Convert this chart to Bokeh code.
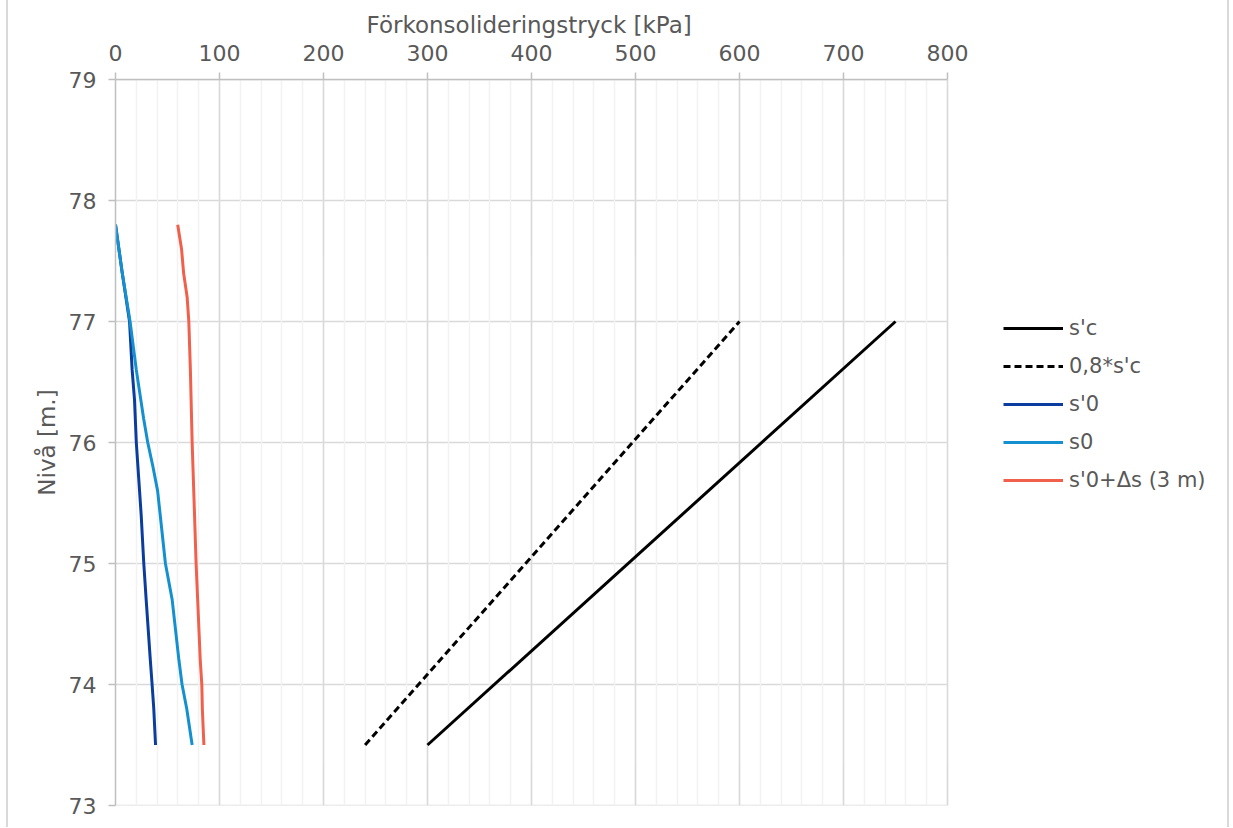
from bokeh.plotting import figure
from bokeh.models import Range1d, FixedTicker, Legend, LegendItem, Title
from bokeh.embed import file_html
from bokeh.resources import INLINE

# ---- data ----
x_ticks = [0, 100, 200, 300, 400, 500, 600, 700, 800]
x_minor = list(range(0, 801, 20))
y_ticks = [73, 74, 75, 76, 77, 78, 79]

sc_depth = [73.5, 77.0]
sc_vals = [300, 750]
sc08_vals = [240, 600]

s0eff_depth = [77.8, 77.4, 77.0, 76.6, 76.35, 76.0, 75.4, 75.0, 74.7, 74.2, 74.0, 73.8, 73.5]
s0eff_vals = [0, 6.5, 13.5, 16, 18.3, 20, 24.7, 27.2, 29.5, 33.5, 35.2, 36.8, 38.5]

s0_depth = [77.8, 77.4, 77.0, 76.6, 76.2, 76.0, 75.8, 75.6, 75.0, 74.7, 74.2, 74.0, 73.8, 73.5]
s0_vals = [0, 6.5, 14, 20, 27, 31, 36, 40.5, 48, 54.5, 61, 64, 68.5, 73.7]

red_depth = [77.8, 77.6, 77.4, 77.2, 77.0, 76.6, 76.0, 75.4, 75.0, 74.7, 74.2, 74.0, 73.8, 73.5]
red_vals = [59.8, 63.5, 65.5, 68.9, 70.5, 72, 73.7, 76, 77.5, 79, 81.5, 83, 83.5, 85]

labels = ["s'c", "0,8*s'c", "s'0", "s0", "s'0+\u0394s (3 m)"]
x_title = "F\u00f6rkonsolideringstryck [kPa]"
y_title = "Niv\u00e5 [m.]"

FONT = "DejaVu Sans"
TXT = "#595959"
X_MAX = 800
PLOT_W = 832                       # pixel width of the 0..800 plot area
FRAME_W = 1112                     # frame continues under the legend area
X_END = X_MAX * FRAME_W / PLOT_W

p = figure(frame_width=FRAME_W, frame_height=726, x_axis_location="above",
           output_backend="svg", toolbar_location=None,
           x_range=Range1d(0, X_END), y_range=Range1d(73, 79),
           min_border_left=107, min_border_top=79, min_border_bottom=22,
           min_border_right=0)
p.styles = {"margin-left": "6px", "border-left": "2px solid #d9d9d9",
            "border-right": "2px solid #d9d9d9"}
p.outline_line_color = None
p.background_fill_color = "white"
p.border_fill_color = "white"

p.xaxis.ticker = FixedTicker(ticks=x_ticks, minor_ticks=x_minor)
p.xaxis.bounds = (0, X_MAX)
p.yaxis.ticker = FixedTicker(ticks=y_ticks)

for ax in (p.xaxis[0], p.yaxis[0]):
    ax.axis_line_color = "#bfbfbf"
    ax.axis_line_width = 1.5
    ax.major_tick_line_color = "#bfbfbf"
    ax.major_tick_line_width = 1.5
    ax.major_tick_out = 7
    ax.major_tick_in = 0
    ax.minor_tick_line_color = None
    ax.major_label_text_font = FONT
    ax.major_label_text_font_size = "22px"
    ax.major_label_text_color = TXT
    ax.axis_label_text_font = FONT
    ax.axis_label_text_font_size = "23px"
    ax.axis_label_text_font_style = "normal"
    ax.axis_label_text_color = TXT

p.yaxis.axis_label = y_title
p.xaxis.major_label_standoff = 12
p.yaxis.major_label_standoff = 12
p.yaxis.axis_label_standoff = 6

# x-axis title, centred over the 0..800 plot area
title = Title(text=x_title, align="left", offset=251, standoff=7,
              text_font=FONT, text_font_size="23px", text_font_style="normal",
              text_color=TXT)
p.add_layout(title, "above")

p.xgrid.bounds = (0, X_MAX)
p.xgrid.grid_line_color = "#d9d9d9"
p.xgrid.grid_line_width = 1.5
p.xgrid.minor_grid_line_color = "#f2f2f2"
p.xgrid.minor_grid_line_width = 1.5
p.ygrid.visible = False
# horizontal gridlines limited to the 0..800 plot area
p.segment(x0=[0] * len(y_ticks), x1=[X_MAX] * len(y_ticks), y0=y_ticks, y1=y_ticks,
          line_color="#d9d9d9", line_width=1.5, level="underlay")

r1 = p.line(sc_vals, sc_depth, line_color="black", line_width=3)
r2 = p.line(sc08_vals, sc_depth, line_color="black", line_width=3, line_dash="7 4")
r3 = p.line(s0eff_vals, s0eff_depth, line_color="#0a3d9e", line_width=3)
r4 = p.line(s0_vals, s0_depth, line_color="#1490d0", line_width=3)
r5 = p.line(red_vals, red_depth, line_color="#f0604c", line_width=3)

items = [LegendItem(label=l, renderers=[r]) for l, r in zip(labels, [r1, r2, r3, r4, r5])]
legend = Legend(items=items, location=(888, 313), glyph_width=60, glyph_height=20,
                label_height=20, spacing=14, padding=0, margin=0, label_standoff=6,
                label_text_font=FONT, label_text_font_size="21px", label_text_color=TXT,
                background_fill_alpha=0, border_line_color=None)
p.add_layout(legend, "center")

open("out.html", "w").write(file_html(p, INLINE))
